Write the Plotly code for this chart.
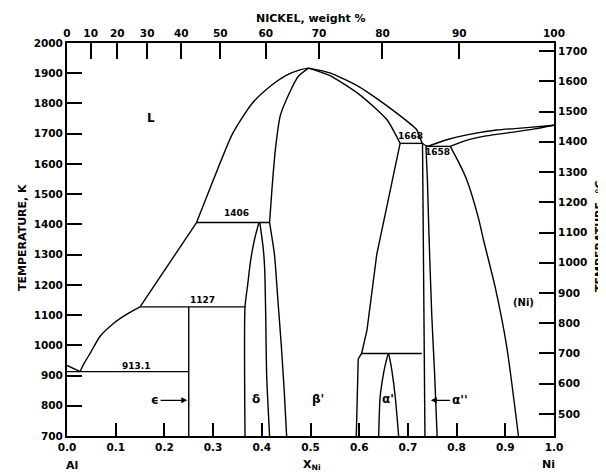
import plotly.graph_objects as go

# ---------------- data: mole fraction Ni (x) and temperature in K (t) ----------------
al_liq_x = [0.0, 0.027]
al_liq_t = [933.5, 913.1]

liq_al_x = [0.027, 0.035, 0.048, 0.068, 0.096, 0.123, 0.150]
liq_al_t = [913.1, 940, 975, 1030, 1073, 1103, 1127]

liq_mid_x = [0.150, 0.266]
liq_mid_t = [1127, 1406]

liq_bl_x = [0.266, 0.30, 0.34, 0.38, 0.42, 0.45, 0.48, 0.496]
liq_bl_t = [1406, 1545, 1700, 1800, 1860, 1893, 1912, 1917]

liq_br_x = [0.496, 0.54, 0.60, 0.64, 0.677, 0.718, 0.730, 0.740]
liq_br_t = [1917, 1901, 1855, 1812, 1768, 1713, 1668, 1658]

sol_bl_x = [0.496, 0.475, 0.455, 0.438, 0.428, 0.421, 0.416]
sol_bl_t = [1917, 1890, 1829, 1760, 1650, 1520, 1406]

sol_br_x = [0.496, 0.54, 0.60, 0.657, 0.684]
sol_br_t = [1917, 1892, 1830, 1746, 1668]

beta_left_x = [0.416, 0.426, 0.433, 0.440, 0.446, 0.451]
beta_left_t = [1406, 1300, 1150, 1000, 850, 700]

beta_right_x = [0.684, 0.660, 0.636, 0.616, 0.605, 0.598, 0.594]
beta_right_t = [1668, 1480, 1300, 1050, 973, 955, 700]

delta_left_x = [0.394, 0.385, 0.377, 0.371, 0.3655, 0.3655]
delta_left_t = [1406, 1350, 1280, 1200, 1127, 700]

delta_right_x = [0.396, 0.403, 0.406, 0.408, 0.410, 0.416]
delta_right_t = [1406, 1320, 1250, 1100, 900, 700]

eps_x = [0.25, 0.25]
eps_t = [700, 1127]

a1_left_x = [0.730, 0.732, 0.733, 0.735]
a1_left_t = [1668, 1300, 973, 700]

a1_right_x = [0.737, 0.740, 0.743, 0.749, 0.755, 0.760]
a1_right_t = [1658, 1550, 1380, 1100, 900, 700]

alpha_x = [0.640, 0.643, 0.650, 0.655, 0.660, 0.664, 0.667, 0.674, 0.681]
alpha_t = [700, 829, 907, 945, 973, 945, 918, 829, 700]

ni_solvus_x = [0.787, 0.807, 0.821, 0.845, 0.855, 0.879, 0.903, 0.927]
ni_solvus_t = [1658, 1597, 1547, 1420, 1350, 1194, 995, 700]

ni_liq_x = [0.740, 0.78, 0.821, 0.882, 0.944, 1.0]
ni_liq_t = [1658, 1680, 1696, 1712, 1720, 1728]

ni_sol_x = [0.787, 0.82, 0.855, 0.9235, 0.96, 1.0]
ni_sol_t = [1658, 1678, 1691, 1707, 1716, 1728]

# invariant horizontal lines
iso_913_x = [0.0, 0.25]
iso_913_t = [913.1, 913.1]
iso_1127_x = [0.150, 0.3655]
iso_1127_t = [1127, 1127]
iso_1406_x = [0.266, 0.416]
iso_1406_t = [1406, 1406]
iso_1668_x = [0.684, 0.730]
iso_1668_t = [1668, 1668]
iso_1658_x = [0.737, 0.787]
iso_1658_t = [1658, 1658]
iso_973_x = [0.605, 0.7285]
iso_973_t = [973, 973]

x_ticks = [0.0, 0.1, 0.2, 0.3, 0.4, 0.5, 0.6, 0.7, 0.8, 0.9, 1.0]
x_tick_text = ["0.0", "0.1", "0.2", "0.3", "0.4", "0.5", "0.6", "0.7", "0.8", "0.9", "1.0"]
k_ticks = [700, 800, 900, 1000, 1100, 1200, 1300, 1400, 1500, 1600, 1700, 1800, 1900, 2000]
c_ticks = [500, 600, 700, 800, 900, 1000, 1100, 1200, 1300, 1400, 1500, 1600, 1700]
wt_ticks = [0, 10, 20, 30, 40, 50, 60, 70, 80, 90, 100]

M_NI, M_AL = 58.69, 26.98


def wt_to_x(w):
    if w >= 100:
        return 1.0
    a = w / M_NI
    b = (100 - w) / M_AL
    return a / (a + b)


wt_tick_pos = [wt_to_x(w) for w in wt_ticks]

# ---------------- figure ----------------
fig = go.Figure()
LW = 1.4


def add(x, t, smooth=True):
    fig.add_trace(go.Scatter(
        x=x, y=t, mode="lines",
        line=dict(color="black", width=LW, shape="spline" if smooth else "linear",
                  smoothing=0.6),
        hoverinfo="skip", showlegend=False))


add(al_liq_x, al_liq_t, False)
add(liq_al_x, liq_al_t)
add(liq_mid_x, liq_mid_t, False)
add(liq_bl_x, liq_bl_t)
add(liq_br_x, liq_br_t)
add(sol_bl_x, sol_bl_t)
add(sol_br_x, sol_br_t)
add(beta_left_x, beta_left_t)
add(beta_right_x, beta_right_t, False)
add(delta_left_x, delta_left_t)
add(delta_right_x, delta_right_t)
add(eps_x, eps_t, False)
add(a1_left_x, a1_left_t, False)
add(a1_right_x, a1_right_t)
add(alpha_x, alpha_t)
add(ni_solvus_x, ni_solvus_t)
add(ni_liq_x, ni_liq_t)
add(ni_sol_x, ni_sol_t)
for xs, ts in [(iso_913_x, iso_913_t), (iso_1127_x, iso_1127_t), (iso_1406_x, iso_1406_t),
               (iso_1668_x, iso_1668_t), (iso_1658_x, iso_1658_t), (iso_973_x, iso_973_t)]:
    add(xs, ts, False)

# empty trace to activate the secondary axes
fig.add_trace(go.Scatter(x=[None], y=[None], xaxis="x2", yaxis="y2", mode="lines",
                         showlegend=False, hoverinfo="skip"))

FONT = "DejaVu Sans"
tickfont = dict(family=FONT, size=10.5, color="black", weight="bold")
axis_common = dict(showline=True, linewidth=2, linecolor="black", ticks="inside",
                   tickwidth=1.5, tickcolor="black", showgrid=False, zeroline=False,
                   tickfont=tickfont)

# page body has an 8px margin: figure sized to fit the 606x473 window
W, H = 598, 465
ML, MT = 59, 35
PW, PH = 487, 393
fig.update_layout(
    width=W, height=H,
    margin=dict(l=ML, r=W - ML - PW, t=MT, b=H - MT - PH),
    paper_bgcolor="white", plot_bgcolor="white",
    xaxis=dict(range=[0, 1], tickvals=x_ticks, ticktext=x_tick_text, ticklen=13,
               **axis_common),
    yaxis=dict(range=[700, 2000], tickvals=k_ticks, ticklen=15, **axis_common),
    xaxis2=dict(range=[0, 1], overlaying="x", side="top", anchor="y",
                tickvals=wt_tick_pos, ticktext=[str(w) for w in wt_ticks], ticklen=16,
                **axis_common),
    yaxis2=dict(range=[700 - 273.15, 2000 - 273.15], overlaying="y", side="right",
                anchor="x", tickvals=c_ticks, ticklen=15, **axis_common),
)


# helpers converting window pixel positions of the reference into paper coords
def pax(px):
    return (px - 8 - ML) / PW


def pay(py):
    return (MT + PH - (py - 8)) / PH


def lab(text, x, y, size=11, xref="x", yref="y", angle=0, xanchor="center"):
    fig.add_annotation(text=text, x=x, y=y, xref=xref, yref=yref, showarrow=False,
                       textangle=angle, xanchor=xanchor, yanchor="middle",
                       font=dict(family=FONT, size=size, color="black", weight="bold"))


# axis titles
lab("TEMPERATURE, K", pax(22), pay(238), 11, "paper", "paper", -90)
lab("TEMPERATURE, °C", pax(599), pay(236), 11, "paper", "paper", -90)
lab("NICKEL, weight %", pax(311), pay(18.6), 11, "paper", "paper")
lab("X<sub>Ni</sub>", pax(312), pay(465), 11, "paper", "paper")
lab("Al", pax(72), pay(465), 11, "paper", "paper")
lab("Ni", pax(548), pay(464), 11, "paper", "paper")

# region and invariant labels
lab("L", 0.173, 1752, 12)
lab("1406", 0.349, 1438, 9)
lab("1127", 0.279, 1150, 9)
lab("913.1", 0.142, 932, 9)
lab("1668", 0.705, 1691, 9)
lab("1658", 0.761, 1641, 9)
lab("δ", 0.389, 824, 12)
lab("β'", 0.516, 824, 12)
lab("α'", 0.660, 824, 12)
lab("(Ni)", 0.937, 1141, 10)

arrow_font = dict(family=FONT, size=12, color="black", weight="bold")
fig.add_annotation(text="ϵ", x=0.247, y=818, ax=0.181, ay=818, axref="x", ayref="y",
                   xref="x", yref="y", showarrow=True, arrowhead=2, arrowsize=1,
                   arrowwidth=1.2, arrowcolor="black", font=arrow_font)
fig.add_annotation(text="α''", x=0.747, y=818, ax=0.806, ay=818, axref="x", ayref="y",
                   xref="x", yref="y", showarrow=True, arrowhead=2, arrowsize=1,
                   arrowwidth=1.2, arrowcolor="black", font=arrow_font)

fig.write_html("out.html")
